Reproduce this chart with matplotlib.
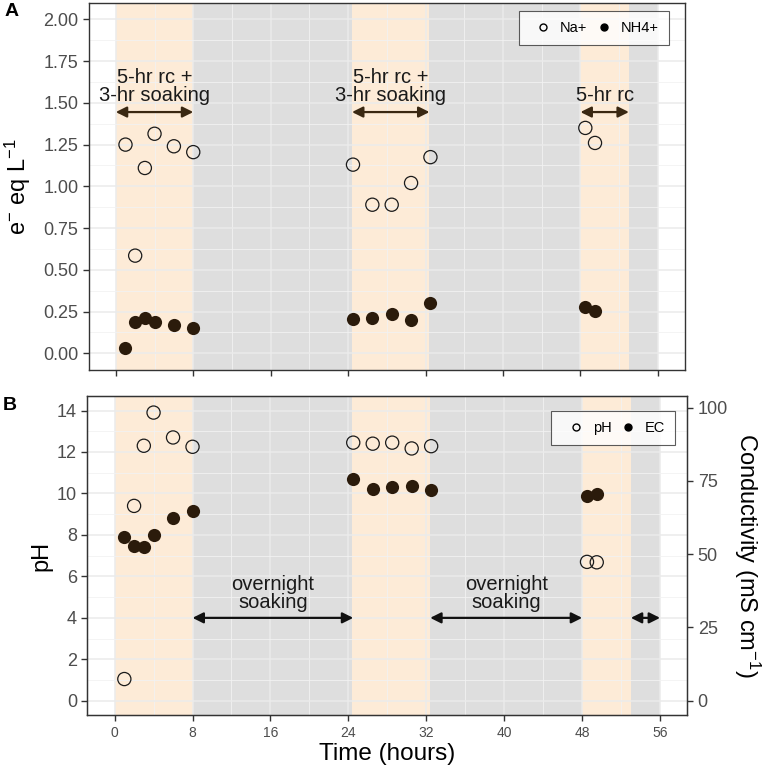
import numpy as np
import matplotlib
matplotlib.use('Agg')
import matplotlib.pyplot as plt
from matplotlib.lines import Line2D

plt.rcParams['font.family'] = ['Liberation Sans', 'DejaVu Sans']
plt.rcParams['mathtext.fontset'] = 'custom'
plt.rcParams['mathtext.rm'] = 'Liberation Sans'
plt.rcParams['mathtext.it'] = 'Liberation Sans:italic'

# sampling times (hours)
time = [1, 2, 3, 4, 6, 8, 24.5, 26.5, 28.5, 30.5, 32.5, 48.5, 49.5]

# panel A: e- eq / L
na = [1.25, 0.585, 1.11, 1.315, 1.24, 1.205, 1.13, 0.89, 0.89, 1.02, 1.175, 1.35, 1.26]
nh4 = [0.034, 0.19, 0.21, 0.19, 0.167, 0.15, 0.207, 0.21, 0.236, 0.197, 0.30, 0.28, 0.254]

# panel B: pH and conductivity (mS/cm)
ph = [1.05, 9.4, 12.3, 13.9, 12.7, 12.25, 12.45, 12.4, 12.45, 12.17, 12.28, 6.7, 6.68]
ec = [55.9, 52.9, 52.3, 56.6, 62.2, 64.6, 75.5, 72.2, 72.9, 73.3, 72.0, 69.9, 70.4]

# experiment phases (hours)
phase_start = [0, 8, 24.4, 32.4, 48, 53]
phase_end = [8, 24.4, 32.4, 48, 53, 56]
phase_kind = ['rc', 'soak', 'rc', 'soak', 'rc', 'soak']

sec_factor = 7.07  # pH -> conductivity scale of right axis

orange = '#F59B37'
grey = '#BEBEBE'
dark = '#2B1B0B'
tick_grey = '#4D4D4D'

fig = plt.figure(figsize=(7.66, 7.71), dpi=100)
axA = fig.add_axes([0.1158, 0.5201, 0.7785, 0.4764])
axB = fig.add_axes([0.1140, 0.0722, 0.7833, 0.4142])


def base_style(ax):
    ax.set_xlim(-2.8, 58.8)
    ax.set_xticks(np.arange(0, 57, 8))
    ax.set_xticks(np.arange(4, 57, 8), minor=True)
    ax.grid(True, which='major', color='#EBEBEB', lw=1.1, zorder=0)
    ax.grid(True, which='minor', color='#F2F2F2', lw=0.6, zorder=0)
    ax.set_axisbelow(True)
    for s in ax.spines.values():
        s.set_color('#333333')
        s.set_linewidth(1.0)
    ax.tick_params(which='major', length=4, color='#333333', width=1.0,
                   labelcolor=tick_grey)
    ax.tick_params(which='minor', length=0)
    ax.tick_params(axis='y', labelsize=13)
    ax.tick_params(axis='x', labelsize=10)
    for a, b, k in zip(phase_start, phase_end, phase_kind):
        ax.axvspan(a, b, color=orange if k == 'rc' else grey,
                   alpha=0.2 if k == 'rc' else 0.5, lw=0, zorder=0.5)


def legend_box(ax, handles, anchor):
    lg = ax.legend(handles=handles, ncol=2, loc='upper right', bbox_to_anchor=anchor,
                   borderaxespad=0, fontsize=10.5, frameon=True, fancybox=False,
                   handlelength=2.0, handletextpad=0.15, columnspacing=0.15,
                   borderpad=0.7)
    lg.get_frame().set_edgecolor('#333333')
    lg.get_frame().set_linewidth(0.8)
    lg.set_zorder(10)
    return lg


# ---- panel A ----
base_style(axA)
axA.set_ylim(-0.1, 2.1)
axA.set_yticks(np.arange(0, 2.01, 0.25))
axA.set_yticks(np.arange(0.125, 2.1, 0.25), minor=True)
axA.yaxis.set_major_formatter(matplotlib.ticker.FormatStrFormatter('%.2f'))
axA.tick_params(axis='x', labelbottom=False)

axA.scatter(time, na, s=90, facecolors='none', edgecolors='#1A1A1A', lw=0.9, zorder=3)
axA.scatter(time, nh4, s=90, color=dark, lw=0, zorder=3)

arr_top = dict(arrowstyle='<|-|>', color='#3A2812', lw=1.6, mutation_scale=16,
               shrinkA=0, shrinkB=0)
for a, b, lab in [(0, 8, '5-hr rc +\n3-hr soaking'),
                  (24.4, 32.4, '5-hr rc +\n3-hr soaking'),
                  (48, 53, '5-hr rc')]:
    axA.annotate('', xy=(b, 1.445), xytext=(a, 1.445), arrowprops=arr_top, zorder=4)
    axA.text((a + b) / 2, 1.49, lab, ha='center', va='bottom', fontsize=14.5,
             color='#1A1A1A', linespacing=0.92, zorder=4)

axA.set_ylabel(r'e$^{-}$ eq L$^{-1}$', fontsize=17)
axA.yaxis.set_label_coords(-0.094, 0.5)

legA = [Line2D([], [], ls='', marker='o', mfc='none', mec='k', ms=5, label='Na+'),
        Line2D([], [], ls='', marker='o', color='k', ms=5, label='NH4+')]
legend_box(axA, legA, (0.9737, 0.978))

# ---- panel B ----
base_style(axB)
axB.set_ylim(-0.7, 14.7)
axB.set_yticks(np.arange(0, 15, 2))
axB.set_yticks(np.arange(1, 15, 2), minor=True)
axB.scatter(time, ph, s=90, facecolors='none', edgecolors='#1A1A1A', lw=0.9, zorder=3)

axB2 = axB.twinx()
axB2.set_ylim(-0.7 * sec_factor, 14.7 * sec_factor)
axB2.set_yticks([0, 25, 50, 75, 100])
axB2.tick_params(axis='y', labelsize=13, labelcolor=tick_grey, length=4,
                 color='#333333', width=1.0)
for s in axB2.spines.values():
    s.set_color('#333333')
axB2.scatter(time, ec, s=90, color=dark, lw=0, zorder=3)

arr_bot = dict(arrowstyle='<|-|>', color='#111111', lw=1.6, mutation_scale=16,
               shrinkA=0, shrinkB=0)
for a, b, lab in [(8, 24.5, 'overnight\nsoaking'),
                  (32.4, 48, 'overnight\nsoaking'),
                  (53, 56, '')]:
    axB.annotate('', xy=(b, 4.0), xytext=(a, 4.0), arrowprops=arr_bot, zorder=4)
    if lab:
        axB.text((a + b) / 2, 4.3, lab, ha='center', va='bottom', fontsize=14.5,
                 color='#1A1A1A', linespacing=0.92, zorder=4)

axB.set_ylabel('pH', fontsize=17)
axB.yaxis.set_label_coords(-0.058, 0.5)
axB2.set_ylabel(r'Conductivity (mS cm$^{-1}$)', fontsize=17, rotation=270, va='center')
axB2.yaxis.set_label_coords(1.099, 0.5)
axB.set_xlabel('Time (hours)', fontsize=17.5)
axB.xaxis.set_label_coords(0.5, -0.088)

legB = [Line2D([], [], ls='', marker='o', mfc='none', mec='k', ms=5, label='pH'),
        Line2D([], [], ls='', marker='o', color='k', ms=5, label='EC')]
legend_box(axB2, legB, (0.98, 0.954))

fig.text(0.006, 0.985, 'A', fontsize=14, fontweight='bold', va='center')
fig.text(0.004, 0.4747, 'B', fontsize=14, fontweight='bold', va='center')

fig.savefig('out.png', dpi=100)
